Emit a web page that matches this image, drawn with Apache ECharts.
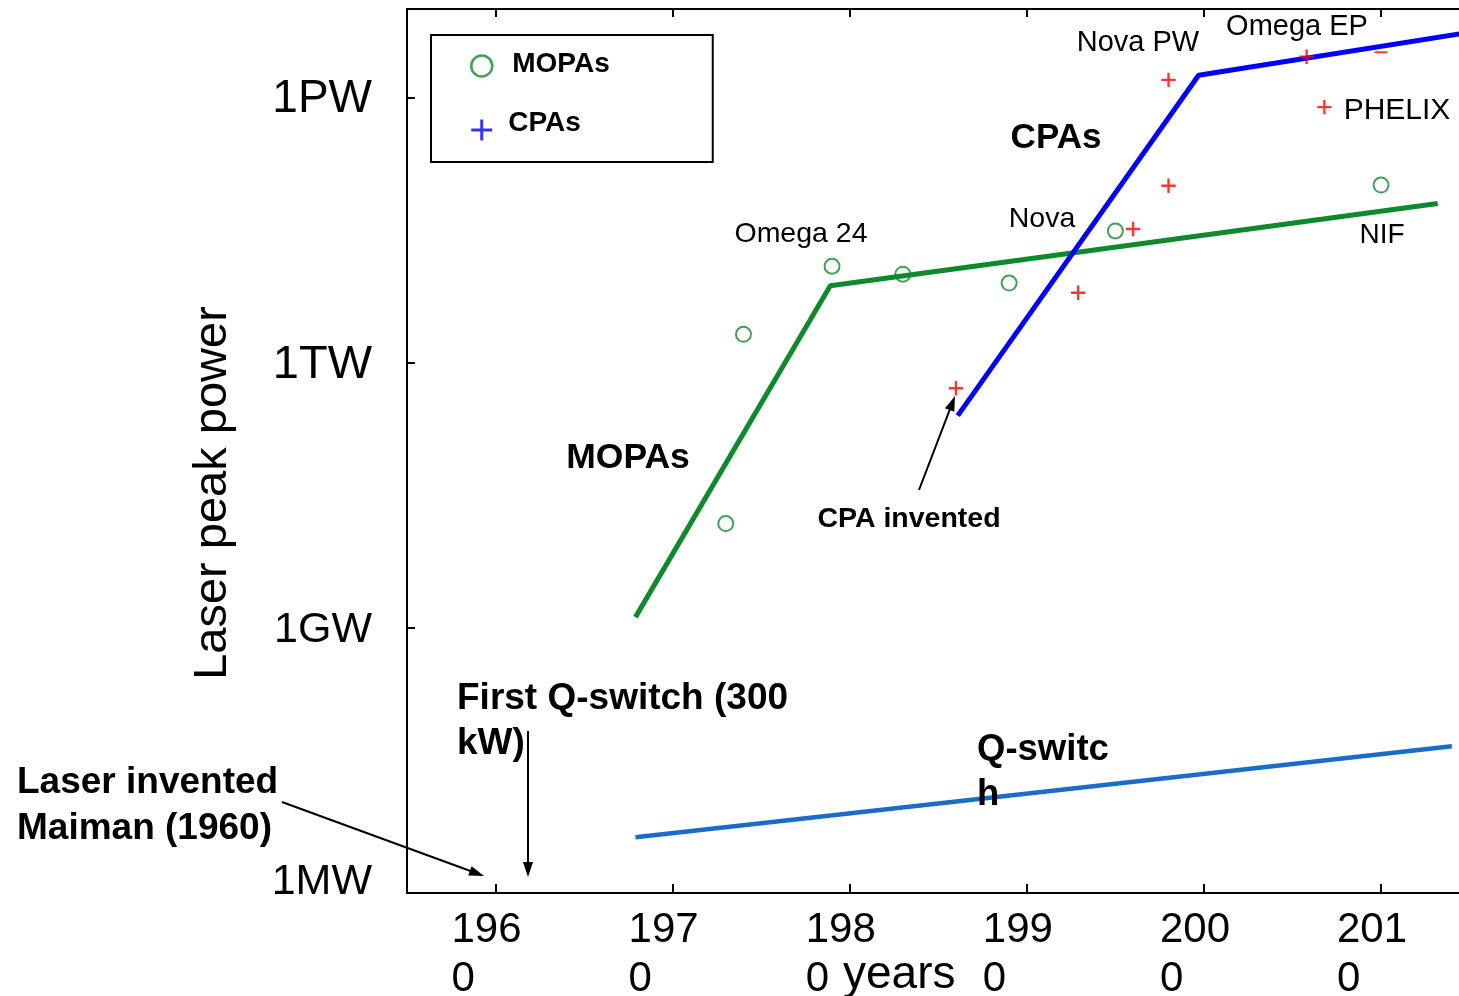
<!DOCTYPE html>
<html><head><meta charset="utf-8">
<script src="https://cdn.jsdelivr.net/npm/echarts@6/dist/echarts.min.js"></script>
<style>html,body{margin:0;padding:0;background:#fff}#c{width:1459px;height:996px}</style>
</head><body><div id="c"></div>
<script>
const FONT = "'Liberation Sans', Arial, Helvetica, sans-serif";

// ---- data (year, peak power in W) ----
const mopaYears = [1973.0, 1974.0, 1979.0, 1983.0, 1989.0, 1995.0, 2010.0];
const mopaPower = [1.51e10, 2.09e12, 1.23e13, 1.0e13, 7.94e12, 3.09e13, 1.02e14];

const cpaYears = [1986.0, 1992.9, 1996.0, 1998.0, 1998.0, 2005.8, 2006.8, 2010.0];
const cpaPower = [5.13e11, 6.17e12, 3.24e13, 1.0e14, 1.58e15, 2.88e15, 7.76e14, 3.24e15];
const cpaMarks = ['plus', 'plus', 'plus', 'plus', 'plus', 'plus', 'plus', 'minus'];

const mopaTrendYears = [1967.9, 1978.9, 2013.2];
const mopaTrendPower = [1.32e9, 7.41e12, 6.31e13];

const cpaTrendYears = [1986.1, 1999.7, 2014.5];
const cpaTrendPower = [2.51e11, 1.78e15, 5.25e15];

const qTrendYears = [1967.9, 2014.0];
const qTrendPower = [4.27e6, 4.57e7];

const xTickYears = [1960, 1970, 1980, 1990, 2000, 2010];
const yTickExps = [6, 9, 12, 15];
const yTickLabels = ['1MW', '1GW', '1TW', '1PW'];

// ---- styles ----
const GREEN = '#0e8a2c';
const BLUE = '#0000ff';
const QBLUE = '#1a6dc6';
const RED = '#ff0000';
const PLUS = 'path://M6,0h2.4v14.4h-2.4zM0,6h14.4v2.4h-14.4z';
const MINUS = 'path://M0,0h13v2h-13z';
const PLUS_LEGEND = 'path://M9,0h3v21h-3zM0,9h21v3h-21z';

const chart = echarts.init(document.getElementById('c'), null, {renderer: 'canvas'});

function arrow(x1, y1, x2, y2) {
  const dx = x2 - x1, dy = y2 - y1, L = Math.hypot(dx, dy);
  const ux = dx / L, uy = dy / L, hl = 15, hw = 5;
  const bx = x2 - ux * hl, by = y2 - uy * hl;
  return [
    {type: 'line', z: 100, shape: {x1: x1, y1: y1, x2: bx + ux * 2, y2: by + uy * 2}, style: {stroke: '#000', lineWidth: 2}},
    {type: 'polygon', z: 100, shape: {points: [[x2, y2], [bx - uy * hw, by + ux * hw], [bx + uy * hw, by - ux * hw]]}, style: {fill: '#000'}}
  ];
}
function txt(text, x, y, size, bold, align, vAlign, lineHeight) {
  return {type: 'text', z: 100, x: x, y: y, style: {
    text: text, fontSize: size, fontFamily: FONT, fontWeight: bold ? 'bold' : 'normal',
    fill: '#000', align: align || 'center', verticalAlign: vAlign || 'middle', lineHeight: lineHeight || undefined
  }};
}

const axisLineStyle = {color: '#000', width: 2};
const legendTok = {fontSize: 28, fontWeight: 'bold', color: '#000', fontFamily: FONT, lineHeight: 21, verticalAlign: 'top'};

const option = {
  animation: false,
  backgroundColor: '#fff',
  textStyle: {fontFamily: FONT},
  grid: {left: 407, right: -10.6, top: 9, bottom: 103, containLabel: false, outerBoundsMode: 'none'},
  legend: {
    orient: 'vertical', left: 431, top: 35,
    padding: [15, 103, 11, 39], itemGap: 27, itemWidth: 21, itemHeight: 21,
    borderColor: '#000', borderWidth: 2, borderRadius: 0, backgroundColor: '#fff',
    selectedMode: false,
    formatter: function (name) {
      return name === 'MOPAs' ? '{m|MOPAs}{s1|}' : '{c|CPAs}{s2|}';
    },
    textStyle: {
      fontSize: 28, fontWeight: 'bold', color: '#000', fontFamily: FONT,
      rich: {
        m: Object.assign({padding: [0, 0, 0, 15]}, legendTok),
        c: Object.assign({padding: [0, 0, 0, 11]}, legendTok),
        s1: {height: 32, width: 0, lineHeight: 32},
        s2: {height: 42, width: 0, lineHeight: 42}
      }
    },
    data: [
      {name: 'MOPAs', icon: 'circle', itemStyle: {color: 'rgba(0,0,0,0)', borderColor: GREEN, borderWidth: 2.5}},
      {name: 'CPAs', icon: PLUS_LEGEND, itemStyle: {color: BLUE, borderWidth: 0}}
    ]
  },
  xAxis: [
    {
      type: 'value', position: 'bottom', min: 1955, max: 2015, minInterval: 10, maxInterval: 10,
      splitLine: {show: false},
      axisLine: {show: true, onZero: false, lineStyle: axisLineStyle},
      axisTick: {show: true, inside: true, length: 9, lineStyle: axisLineStyle},
      axisLabel: {
        margin: 13,
        formatter: function (v) {
          if (xTickYears.indexOf(v) < 0) return '';
          const s = String(v);
          return '{a|' + s.slice(0, 3) + '}\n{a|' + s.slice(3) + '}';
        },
        rich: {a: {fontSize: 42, lineHeight: 49, fontFamily: FONT, color: '#000', align: 'left', padding: [0, 18, 0, 0]}}
      }
    },
    {
      type: 'value', position: 'top', min: 1955, max: 2015, minInterval: 10, maxInterval: 10,
      splitLine: {show: false},
      axisLine: {show: true, onZero: false, lineStyle: axisLineStyle},
      axisTick: {show: true, inside: true, length: 8, lineStyle: axisLineStyle},
      axisLabel: {show: false}
    }
  ],
  yAxis: {
    type: 'log', logBase: 10, min: 1e6, max: 1e16, interval: 3,
    splitLine: {show: false}, minorTick: {show: false}, minorSplitLine: {show: false},
    axisLine: {show: true, onZero: false, lineStyle: axisLineStyle},
    axisTick: {show: true, inside: true, length: 8, lineStyle: axisLineStyle},
    axisLabel: {
      margin: 35,
      formatter: function (v) {
        const e = Math.round(Math.log10(v));
        const i = yTickExps.indexOf(e);
        if (i < 0) return '';
        return (e === 6 ? '{mw|' : (e === 9 ? '{g|' : (e === 12 ? '{t|' : '{n|'))) + yTickLabels[i] + '}';
      },
      rich: {
        n: {fontSize: 46, fontFamily: FONT, color: '#000', padding: [4, 0, 0, 0]},
        t: {fontSize: 47, fontFamily: FONT, color: '#000', padding: [4, 0, 0, 0]},
        g: {fontSize: 43, fontFamily: FONT, color: '#000', padding: [4, 0, 0, 0]},
        mw: {fontSize: 43, fontFamily: FONT, color: '#000', padding: [0, 0, 22, 0]}
      }
    }
  },
  series: [
    {
      name: 'MOPA trend', type: 'line', xAxisIndex: 0, symbol: 'none', showSymbol: false, z: 3,
      data: mopaTrendYears.map((y, i) => [y, mopaTrendPower[i]]),
      lineStyle: {color: GREEN, width: 5}
    },
    {
      name: 'CPA trend', type: 'line', xAxisIndex: 0, symbol: 'none', showSymbol: false, z: 3,
      data: cpaTrendYears.map((y, i) => [y, cpaTrendPower[i]]),
      lineStyle: {color: BLUE, width: 5}
    },
    {
      name: 'Q-switch trend', type: 'line', xAxisIndex: 0, symbol: 'none', showSymbol: false, z: 3,
      data: qTrendYears.map((y, i) => [y, qTrendPower[i]]),
      lineStyle: {color: QBLUE, width: 4.5}
    },
    {
      name: 'MOPAs', type: 'scatter', xAxisIndex: 0, z: 5,
      data: mopaYears.map((y, i) => [y, mopaPower[i]]),
      symbol: 'circle', symbolSize: 15,
      itemStyle: {color: 'rgba(0,0,0,0)', borderColor: GREEN, borderWidth: 2}
    },
    {
      name: 'CPAs', type: 'scatter', xAxisIndex: 0, z: 5,
      data: cpaYears.map((y, i) => ({
        value: [y, cpaPower[i]],
        symbol: cpaMarks[i] === 'minus' ? MINUS : PLUS,
        symbolSize: cpaMarks[i] === 'minus' ? [13, 2] : 14.4
      })),
      itemStyle: {color: RED}
    }
  ],
  graphic: [
    txt('CPAs', 1056, 138, 35, true),
    txt('MOPAs', 628, 458, 35.5, true),
    txt('Omega 24', 801, 234, 28.5, false),
    txt('Nova', 1042, 219, 28.5, false),
    txt('Nova PW', 1138, 43, 29, false),
    txt('Omega EP', 1297, 27, 29, false),
    txt('PHELIX', 1397, 111, 30, false),
    txt('NIF', 1382, 235, 28, false),
    txt('CPA invented', 909, 519, 28.5, true),
    txt('First Q-switch (300\nkW)', 457, 676, 37, true, 'left', 'top', 45),
    txt('Laser invented\nMaiman (1960)', 17, 760, 37, true, 'left', 'top', 46),
    txt('Q-switc\nh', 977, 727, 36.5, true, 'left', 'top', 45),
    txt('years', 843, 975, 46, false, 'left', 'middle'),
    {type: 'text', z: 100, x: 213, y: 493, rotation: Math.PI / 2,
     style: {text: 'Laser peak power', fontSize: 47, fontFamily: FONT, fill: '#000', align: 'center', verticalAlign: 'middle'}}
  ].concat(arrow(282, 802, 484, 876), arrow(528, 731, 528, 877), arrow(919, 490, 955, 396))
};

chart.setOption(option);
</script>
</body></html>
